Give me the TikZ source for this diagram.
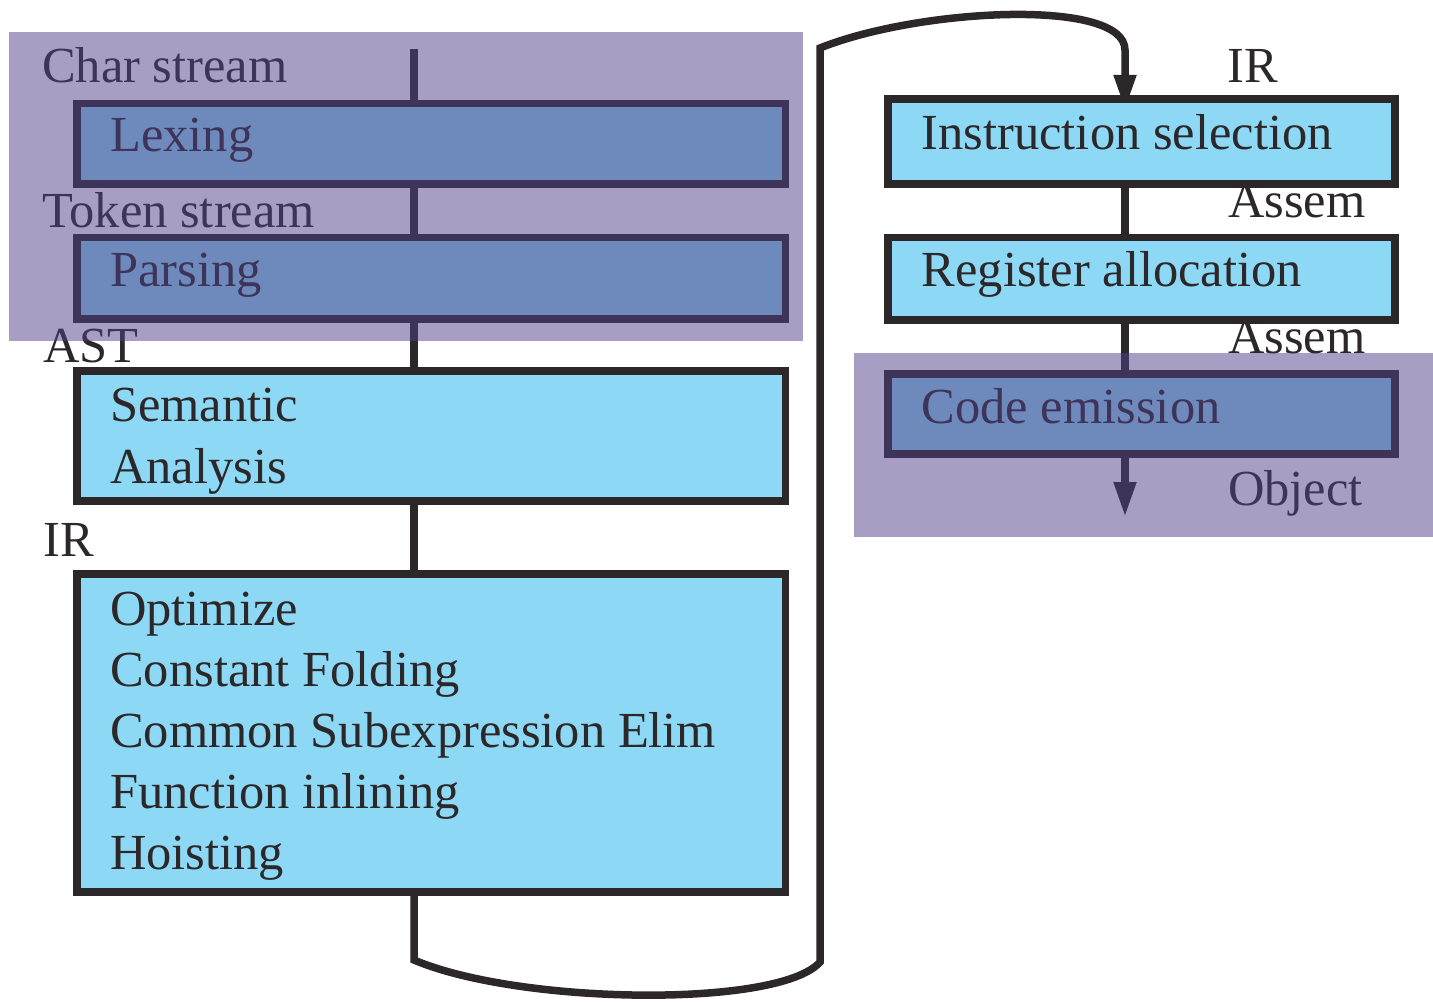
\documentclass[tikz,border=0pt]{standalone}
\usepackage{fontspec}
\setmainfont{Liberation Serif}
\usetikzlibrary{arrows.meta,backgrounds}
\definecolor{ink}{RGB}{44,40,41}
\definecolor{stagefill}{RGB}{141,216,245}
\definecolor{veilcol}{RGB}{81,62,135}
\begin{document}
\begin{tikzpicture}[x=1pt,y=-1pt,
  stage/.style={draw=ink, fill=stagefill, line width=7.5pt, inner sep=0pt, outer sep=0pt, anchor=north west},
  txt/.style={font=\fontsize{50.5}{61}\selectfont, text=ink, inner sep=0pt, anchor=base west},
  flow/.style={draw=ink, line width=7.5pt},
  tip/.style={-{Triangle[length=35pt,width=21pt]}},
  veil/.style={fill=veilcol, opacity=0.5},
]
\useasboundingbox (0,0) rectangle (1433,1003);

% front end stages (left column)
\node[stage, minimum width=708.5pt, minimum height=80.5pt] (lex)   at (77,103.5) {};
\node[stage, minimum width=708.5pt, minimum height=81.5pt] (parse) at (77,237.5) {};
\node[stage, minimum width=708.5pt, minimum height=130pt]  (sem)   at (77,371) {};
\node[stage, minimum width=708.5pt, minimum height=318pt]  (opt)   at (77,574) {};

% back end stages (right column)
\node[stage, minimum width=507pt, minimum height=85pt]   (isel)   at (888,99) {};
\node[stage, minimum width=507pt, minimum height=82.5pt] (ralloc) at (888,237.5) {};
\node[stage, minimum width=507pt, minimum height=80pt]   (emit)   at (888,374) {};

% stage names
\node[txt] (lexT)   at (110,152) {Lexing};
\node[txt] (parseT) at (110,287) {Parsing};
\node[txt] (semT1)  at (110,421) {Semantic};
\node[txt] (semT2)  at (110,483) {Analysis};
\node[txt] (optT1)  at (110,625) {Optimize};
\node[txt] (optT2)  at (110,686) {Constant Folding};
\node[txt] (optT3)  at (110,747) {Common Subexpression Elim};
\node[txt] (optT4)  at (110,808) {Function inlining};
\node[txt] (optT5)  at (110,869) {Hoisting};
\node[txt] (iselT)  at (921.5,150) {Instruction selection};
\node[txt] (rallocT) at (921.5,287) {Register allocation};
\node[txt] (emitT)  at (921.5,423) {Code emission};

% data passed between stages
\node[txt] (dChar)  at (42,83)    {Char stream};
\node[txt] (dTok)   at (42,228)   {Token stream};
\node[txt] (dAst)   at (43,362)   {AST};
\node[txt] (dIr)    at (43,556)   {IR};
\node[txt] (dIr2)   at (1227,83)  {IR};
\node[txt] (dAs1)   at (1228,218) {Assem};
\node[txt] (dAs2)   at (1228,353) {Assem};
\node[txt] (dObj)   at (1228,505) {Object};

% spine coordinates and bends of the long connector
\coordinate (spL) at (414,49);
\coordinate (spR) at (1125,517);
\coordinate (b1) at (414,960);
\coordinate (b2) at (820,962);
\coordinate (b3) at (820,48);
\coordinate (b4) at (1125,50);

\begin{pgfonlayer}{background}
  \draw[flow] (spL) -- (lex.north -| spL);
  \draw[flow] (lex.south -| spL) -- (parse.north -| spL);
  \draw[flow] (parse.south -| spL) -- (sem.north -| spL);
  \draw[flow] (sem.south -| spL) -- (opt.north -| spL);
  \draw[flow, tip, shorten >=-11pt] (opt.south -| spL) -- (b1)
      .. controls (520,1005) and (780,1008) .. (b2) -- (b3)
      .. controls (920,8) and (1125,-2) .. (b4) -- (isel.north -| spR);
  \draw[flow] (isel.south -| spR) -- (ralloc.north -| spR);
  \draw[flow] (ralloc.south -| spR) -- (emit.north -| spR);
  \draw[flow, tip] (emit.south -| spR) -- (spR);
\end{pgfonlayer}

% translucent highlight panels
\fill[veil] (9,32) rectangle (803,341);
\fill[veil] (854,353) rectangle (1433,537);
\end{tikzpicture}
\end{document}
